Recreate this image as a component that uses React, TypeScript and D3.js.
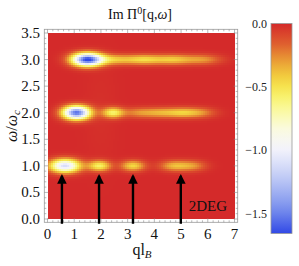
import React from "react";
import * as d3 from "d3";

const W = 299;
const H = 266;

// axis ticks
const xTicks = [0, 1, 2, 3, 4, 5, 6, 7];
const yTicks = [0, 0.5, 1, 1.5, 2, 2.5, 3, 3.5];
const barTicks = [0, -0.5, -1, -1.5];

// colour map of the legend (value -> colour)
const cmapValues = [0, -0.15, -0.3, -0.45, -0.55, -0.7, -0.85, -1.0, -1.2, -1.45, -1.66];
const cmapColors = ["#d42a2a", "#de5a2e", "#eaa036", "#f4d840", "#f8f060", "#fafaa8", "#fafae6", "#f2f2fc", "#c4cef6", "#7e94ee", "#3048e6"];

// resonance peaks: position (q, omega), depth, widths
const peakQ = [0.67, 1.95, 3.2, 4.75, 5.45, 1.1, 2.45, 3.4, 4.2, 5.0, 5.7, 1.5, 2.5, 3.6, 4.7, 5.8, 2.0];
const peakW = [1, 1, 1, 1, 1, 2, 2, 2, 2, 2, 2, 3, 3, 3, 3, 3, 2];
const peakDepth = [-1.12, -0.55, -0.45, -0.36, -0.24, -1.55, -0.55, -0.24, -0.28, -0.35, -0.24, -1.65, -0.36, -0.42, -0.38, -0.27, -0.02];
const peakSq = [0.56, 0.42, 0.45, 0.55, 0.5, 0.5, 0.4, 0.6, 0.6, 0.6, 0.6, 0.56, 0.7, 0.7, 0.7, 0.7, 0.6];
const peakSw = [0.125, 0.1, 0.1, 0.1, 0.1, 0.124, 0.1, 0.095, 0.095, 0.095, 0.095, 0.12, 0.095, 0.095, 0.095, 0.095, 1.0];

// arrows marking the q positions
const arrowQ = [0.54, 1.93, 3.2, 4.99];
const arrowTop = 0.81;
const arrowBottom = -0.09;

const font = "'Liberation Serif', 'Times New Roman', serif";

export default function App() {
  const x = d3.scaleLinear().domain([0, 7]).range([47.5, 234.5]);
  const y = d3.scaleLinear().domain([0, 3.5]).range([219, 33]);
  const color = d3.scaleLinear<string>().domain(cmapValues).range(cmapColors).clamp(true);
  const bar = d3.scaleLinear().domain([0, -1.5]).range([23.5, 213.5]);

  const field = (q: number, w: number) => {
    let v = 0;
    peakQ.forEach((pq, i) => {
      const dq = (q - pq) / peakSq[i];
      const dw = (w - peakW[i]) / peakSw[i];
      v += peakDepth[i] * Math.exp(-dq * dq - dw * dw);
    });
    return v;
  };

  const nx = 94, ny = 93;
  const cells: { x0: number; x1: number; y0: number; y1: number; c: string }[] = [];
  for (let i = 0; i < nx; i++) {
    for (let j = 0; j < ny; j++) {
      const q0 = (i * 7) / nx, q1 = ((i + 1) * 7) / nx;
      const w0 = (j * 3.5) / ny, w1 = ((j + 1) * 3.5) / ny;
      cells.push({ x0: x(q0), x1: x(q1), y0: y(w1), y1: y(w0), c: color(field((q0 + q1) / 2, (w0 + w1) / 2)) });
    }
  }

  const frame = { l: 44.3, r: 237.7, t: 29.3, b: 222.3 };
  const xMinor = d3.range(0, 7.01, 0.2);
  const yMinor = d3.range(0, 3.51, 0.1);
  const gradStops = d3.range(0, 1.001, 0.05).map((t) => {
    const v = bar.invert(23.5 + t * (233.5 - 23.5));
    return { t, c: color(v) };
  });

  return (
    <svg width={W} height={H} style={{ position: "absolute", left: 0, top: 0, background: "#fff", fontFamily: font }}>
      <defs>
        <linearGradient id="cbar" x1="0" y1="0" x2="0" y2="1">
          {gradStops.map((s, i) => (
            <stop key={i} offset={s.t} stopColor={s.c} />
          ))}
        </linearGradient>
        <marker id="head" viewBox="0 0 10 10" refX={8} refY={5} markerWidth={4} markerHeight={4} orient="auto">
          <path d="M0,0 L10,5 L0,10 Z" fill="#000" />
        </marker>
      </defs>

      {/* heat map */}
      <g shapeRendering="crispEdges">
        {cells.map((d, i) => (
          <rect key={i} x={d.x0} y={d.y0} width={d.x1 - d.x0 + 0.4} height={d.y1 - d.y0 + 0.4} fill={d.c} />
        ))}
      </g>

      {/* frame */}
      <rect x={frame.l} y={frame.t} width={frame.r - frame.l} height={frame.b - frame.t} fill="none" stroke="#9a9a9a" strokeWidth={0.8} />
      <g stroke="#8a8a8a" strokeWidth={0.6}>
        {xMinor.map((q, i) => {
          const len = Math.abs(q - Math.round(q)) < 1e-6 ? 4 : 2;
          return (
            <g key={"xm" + i}>
              <line x1={x(q)} x2={x(q)} y1={frame.b} y2={frame.b - len} />
              <line x1={x(q)} x2={x(q)} y1={frame.t} y2={frame.t + len} />
            </g>
          );
        })}
        {yMinor.map((w, i) => {
          const len = Math.abs(w * 2 - Math.round(w * 2)) < 1e-6 ? 4 : 2;
          return (
            <g key={"ym" + i}>
              <line x1={frame.l} x2={frame.l + len} y1={y(w)} y2={y(w)} />
              <line x1={frame.r} x2={frame.r - len} y1={y(w)} y2={y(w)} />
            </g>
          );
        })}
      </g>

      {/* tick labels */}
      <g fontSize={15} fill="#111">
        {xTicks.map((t) => (
          <text key={"xt" + t} x={x(t)} y={239} textAnchor="middle">{t}</text>
        ))}
        {yTicks.map((t) => (
          <text key={"yt" + t} x={40} y={y(t) + 5} textAnchor="end">{d3.format(".1f")(t)}</text>
        ))}
      </g>

      {/* arrows */}
      {arrowQ.map((q, i) => (
        <line key={"ar" + i} x1={x(q)} x2={x(q)} y1={y(arrowBottom)} y2={y(arrowTop)} stroke="#000" strokeWidth={2.4} markerEnd="url(#head)" />
      ))}

      <text x={227} y={211} fontSize={15} textAnchor="end" fill="#111">2DEG</text>

      {/* titles */}
      <text x={140} y={19} fontSize={14} textAnchor="middle" fill="#111">
        Im Π<tspan dy={-5} fontSize={10}>0</tspan><tspan dy={5}>[q,</tspan><tspan fontStyle="italic">ω</tspan>]
      </text>
      <text x={142} y={255} fontSize={16} textAnchor="middle" fill="#111">
        ql<tspan dy={3} fontSize={11} fontStyle="italic">B</tspan>
      </text>
      <text transform="translate(17,126) rotate(-90)" fontSize={16} textAnchor="middle" fill="#111">
        <tspan fontStyle="italic">ω</tspan>/<tspan fontStyle="italic">ω</tspan><tspan dy={3} fontSize={11} fontStyle="italic">c</tspan>
      </text>

      {/* colour bar */}
      <rect x={271} y={23.5} width={21} height={210} fill="url(#cbar)" stroke="#9a9a9a" strokeWidth={0.8} />
      <g fontSize={12} fill="#222">
        {barTicks.map((t) => (
          <text key={"bt" + t} x={267} y={bar(t) + 4} textAnchor="end">{d3.format(".1f")(t)}</text>
        ))}
      </g>
    </svg>
  );
}
